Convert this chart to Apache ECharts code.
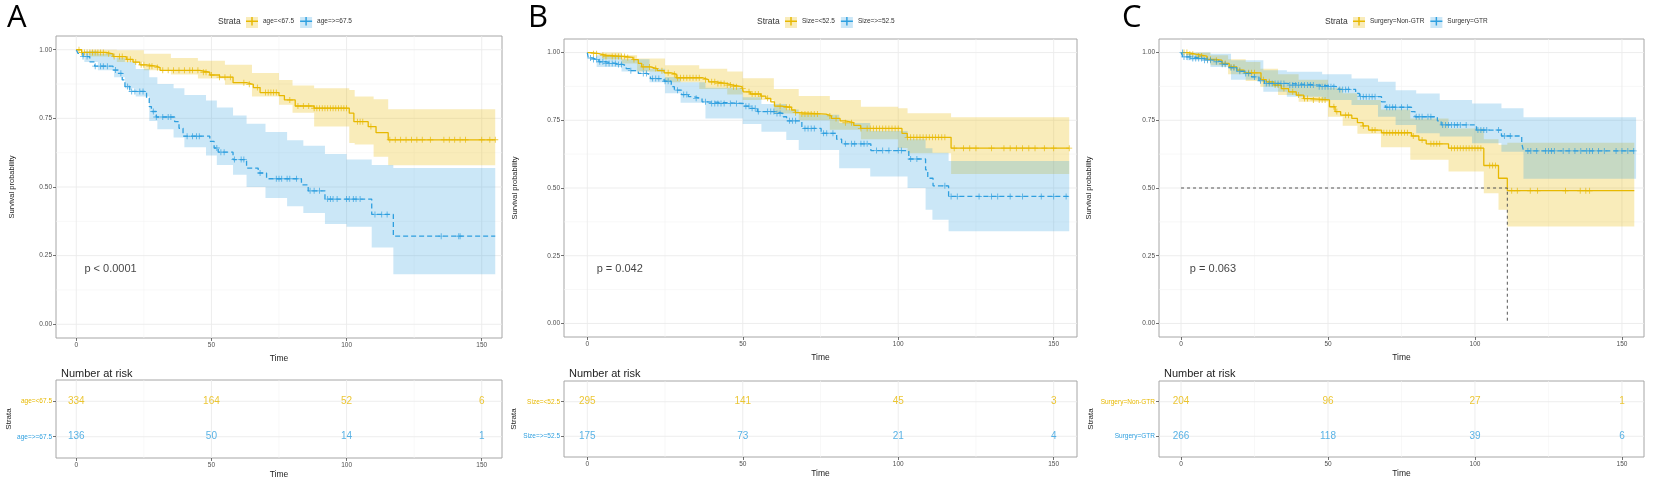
<!DOCTYPE html>
<html>
<head>
<meta charset="utf-8">
<script src="https://cdn.jsdelivr.net/npm/echarts@6/dist/echarts.min.js"></script>
<style>
  html, body { margin: 0; padding: 0; background: #fff; }
  #main { width: 1654px; height: 478px; }
</style>
</head>
<body>
<div id="main"></div>
<script>
// ---- data ----
var xTicks = [0, 50, 100, 150];
var xMinor = [25, 75, 125];
var yTicks = [0, 0.25, 0.5, 0.75, 1];
var yMinor = [0.125, 0.375, 0.625, 0.875];
var riskTimes = [0, 50, 100, 150];

// A: age
var namesA = ['age=<67.5', 'age=>=67.5'];
var timeAgeLow = [0, 2, 11, 13.6, 18.5, 21, 23.5, 26, 29.6, 31, 45.7, 49.4, 53, 58, 63, 65.5, 68, 75, 77, 81, 88, 101, 102.7, 108, 110.9, 115.4, 155];
var survAgeLow = [1, 0.99, 0.985, 0.975, 0.965, 0.955, 0.945, 0.94, 0.935, 0.925, 0.918, 0.908, 0.9, 0.88, 0.874, 0.862, 0.844, 0.833, 0.817, 0.795, 0.787, 0.769, 0.738, 0.72, 0.698, 0.672, 0.672];
var bandTimeAgeLow = [0, 5, 15, 25, 35, 45, 55, 65, 75, 80, 88, 101, 103, 110, 115.4, 155];
var bandHiAgeLow = [1, 1, 0.998, 0.985, 0.97, 0.96, 0.945, 0.915, 0.89, 0.87, 0.86, 0.853, 0.83, 0.82, 0.783, 0.783];
var bandLoAgeLow = [1, 0.975, 0.955, 0.925, 0.91, 0.895, 0.872, 0.83, 0.8, 0.77, 0.72, 0.66, 0.655, 0.61, 0.579, 0.579];
var censorAgeLow = [1, 2, 3, 4, 5, 6, 7, 8, 9, 10, 12, 14, 16, 17, 19, 20, 22, 24, 25, 27, 28, 30, 32, 34, 36, 38, 40, 42, 43, 45, 47, 48, 50, 53, 55, 57, 62, 64, 67, 70, 71, 72, 73, 74, 79, 82, 84, 86, 88, 89, 90, 91, 92, 93, 94, 95, 96, 97, 98, 99, 100, 104, 105, 106, 109, 116, 118, 120, 122, 124, 126, 128, 131, 136, 138, 140, 142, 144, 150, 153, 155];

var timeAgeHigh = [0, 0.6, 2.5, 5, 6.8, 13.6, 15.4, 17, 18, 19.8, 26, 27, 27.8, 29.6, 36.4, 38, 39.5, 49.4, 51, 52.5, 58, 63, 67.3, 70.4, 83.3, 85.8, 92, 109.3, 117.3, 155];
var survAgeHigh = [1, 0.987, 0.975, 0.956, 0.94, 0.926, 0.914, 0.89, 0.866, 0.848, 0.823, 0.793, 0.775, 0.755, 0.738, 0.714, 0.685, 0.666, 0.642, 0.627, 0.6, 0.569, 0.551, 0.53, 0.508, 0.486, 0.456, 0.4, 0.321, 0.321];
var bandTimeAgeHigh = [0, 3, 8, 14, 18, 22, 27, 30, 36, 40, 48, 52, 58, 63, 70, 78, 84, 92, 100, 109.3, 117.3, 155];
var bandHiAgeHigh = [1, 0.995, 0.985, 0.97, 0.955, 0.93, 0.9, 0.875, 0.86, 0.835, 0.815, 0.79, 0.76, 0.73, 0.7, 0.67, 0.65, 0.62, 0.6, 0.58, 0.569, 0.569];
var bandLoAgeHigh = [1, 0.955, 0.925, 0.9, 0.86, 0.83, 0.74, 0.71, 0.68, 0.645, 0.615, 0.58, 0.545, 0.5, 0.46, 0.43, 0.405, 0.365, 0.355, 0.28, 0.182, 0.182];
var censorAgeHigh = [2.5, 4, 7, 9, 10, 11.5, 14.5, 16.5, 19, 20.5, 21.7, 23.5, 24.7, 28.5, 29.6, 32, 34, 35, 41, 43, 44.5, 45.5, 52, 53.5, 54.7, 58.5, 61, 62, 68, 74, 75, 76, 78, 79, 81.5, 86.5, 88, 90, 93, 94, 95, 96.5, 100, 101, 102.5, 103.5, 105, 110.5, 113, 115, 135, 141.5, 142];
var riskAgeLow = [334, 164, 52, 6];
var riskAgeHigh = [136, 50, 14, 1];

// B: size
var namesB = ['Size=<52.5', 'Size=>=52.5'];
var timeSizeLow = [0, 1.4, 3.7, 6, 12.5, 14.7, 16.4, 17.5, 20.3, 22.5, 24.7, 27, 28.6, 36.9, 39, 41.4, 44.7, 46.9, 49.7, 50.2, 52.4, 55.8, 57.4, 59, 60.2, 62.4, 65.7, 66.9, 68, 76.8, 78.5, 81.3, 83, 85.7, 87.9, 101.2, 102.9, 117, 155];
var survSizeLow = [1, 0.996, 0.99, 0.985, 0.982, 0.974, 0.96, 0.947, 0.941, 0.933, 0.925, 0.92, 0.907, 0.9, 0.892, 0.886, 0.88, 0.874, 0.867, 0.855, 0.847, 0.839, 0.831, 0.818, 0.802, 0.798, 0.788, 0.778, 0.773, 0.766, 0.757, 0.748, 0.741, 0.731, 0.72, 0.702, 0.687, 0.647, 0.647];
var bandTimeSizeLow = [0, 5, 11, 16, 25, 36, 45, 50, 60, 68, 78, 88, 100, 103, 117, 155];
var bandHiSizeLow = [1, 1, 0.99, 0.978, 0.953, 0.94, 0.93, 0.905, 0.865, 0.84, 0.825, 0.8, 0.794, 0.776, 0.761, 0.761];
var bandLoSizeLow = [1, 0.975, 0.96, 0.93, 0.89, 0.865, 0.845, 0.825, 0.775, 0.75, 0.715, 0.68, 0.648, 0.628, 0.552, 0.552];
var censorSizeLow = [2, 3, 5, 6, 8, 9, 10, 11, 12, 13, 15, 18, 20, 22, 24, 26, 28, 29, 30, 31, 32, 33, 34, 35, 36, 38, 40, 41, 42, 43, 44, 45, 46, 47, 48, 50, 52, 53, 54, 55, 56, 58, 62, 64, 65, 67, 69, 70, 71, 72, 73, 74, 78, 80, 83, 85, 88, 90, 91, 92, 93, 94, 95, 96, 97, 98, 99, 100, 103, 104, 105, 106, 107, 108, 109, 110, 111, 112, 113, 114, 115, 118, 121, 123, 125, 130, 134, 136, 138, 140, 142, 144, 147, 150, 155];

var timeSizeHigh = [0, 0.3, 1.4, 3.7, 5.9, 9.2, 11.4, 12.5, 13.6, 16.4, 19.2, 20.3, 24.7, 27, 28, 30.3, 32.5, 34, 36.9, 38.6, 50.2, 52.4, 54.7, 60.2, 63, 64.1, 69, 75.2, 80.2, 81.8, 91.2, 103.4, 108.8, 109.5, 111.2, 116.2, 155];
var survSizeHigh = [1, 0.98, 0.974, 0.966, 0.96, 0.956, 0.951, 0.941, 0.933, 0.923, 0.917, 0.904, 0.894, 0.874, 0.861, 0.845, 0.837, 0.831, 0.818, 0.812, 0.802, 0.794, 0.782, 0.775, 0.763, 0.748, 0.72, 0.702, 0.68, 0.663, 0.638, 0.607, 0.567, 0.536, 0.508, 0.469, 0.469];
var bandTimeSizeHigh = [0, 3, 11, 20, 25, 30, 38, 50, 56, 64, 68, 81, 91, 103, 108.8, 111, 116.2, 155];
var bandHiSizeHigh = [1, 0.99, 0.975, 0.94, 0.91, 0.89, 0.87, 0.835, 0.81, 0.79, 0.77, 0.74, 0.71, 0.68, 0.647, 0.63, 0.6, 0.6];
var bandLoSizeHigh = [1, 0.947, 0.93, 0.89, 0.85, 0.815, 0.757, 0.736, 0.708, 0.677, 0.64, 0.573, 0.542, 0.5, 0.42, 0.383, 0.34, 0.34];
var censorSizeHigh = [1, 2, 3, 4, 5, 6, 7, 8, 9, 10, 11, 14, 18, 19, 21, 22, 23, 25, 26, 29, 31, 32, 35, 38, 40, 41, 42, 43, 44, 46, 48, 51, 52, 53, 54, 55, 58, 59, 60, 61, 62, 65, 66, 67, 70, 71, 72, 73, 76, 77, 79, 83, 85, 86, 88, 89, 90, 93, 95, 97, 100, 101, 104, 106, 115, 117, 119, 126, 130, 132, 136, 140, 146, 150, 154];
var riskSizeLow = [295, 141, 45, 3];
var riskSizeHigh = [175, 73, 21, 4];

// C: surgery
var namesC = ['Surgery=Non-GTR', 'Surgery=GTR'];
var timeNonGTR = [0, 2.5, 5, 8.8, 11.4, 13.9, 16.4, 19, 21.5, 27.2, 29, 31.6, 34.1, 36.6, 39.2, 41.7, 44.2, 50.5, 52.4, 54.3, 58.1, 60, 61.9, 63.8, 68.2, 78.4, 80.9, 83.4, 91, 103, 108, 111, 154.2];
var survNonGTR = [1, 0.994, 0.987, 0.975, 0.972, 0.96, 0.947, 0.935, 0.925, 0.9, 0.892, 0.88, 0.867, 0.855, 0.843, 0.83, 0.825, 0.8, 0.782, 0.769, 0.757, 0.741, 0.729, 0.714, 0.704, 0.692, 0.677, 0.663, 0.647, 0.583, 0.536, 0.49, 0.49];
var bandTimeNonGTR = [0, 5, 10, 16, 22, 27, 33, 40, 50, 55, 60, 68, 78, 91, 103, 108, 111, 154.2];
var bandHiNonGTR = [1, 1, 0.99, 0.975, 0.965, 0.94, 0.92, 0.9, 0.87, 0.85, 0.825, 0.79, 0.757, 0.72, 0.68, 0.66, 0.667, 0.667];
var bandLoNonGTR = [1, 0.975, 0.953, 0.92, 0.895, 0.874, 0.843, 0.818, 0.763, 0.73, 0.7, 0.65, 0.604, 0.561, 0.481, 0.42, 0.358, 0.358];
var censorNonGTR = [1, 2, 3, 4, 6, 7, 9, 10, 12, 14, 15, 17, 18, 20, 23, 24, 25, 28, 30, 32, 33, 35, 38, 40, 42, 43, 45, 47, 48, 49, 52, 53, 56, 57, 62, 65, 66, 69, 70, 71, 72, 73, 74, 75, 76, 77, 79, 82, 85, 86, 87, 88, 92, 93, 94, 95, 96, 97, 98, 99, 100, 101, 102, 105, 106, 107, 112.5, 114.4, 118.8, 121.3, 130.8, 135.8, 137.7, 139];

var timeGTR = [0, 0.6, 3.8, 7.6, 11.4, 13.9, 16.4, 19, 21.5, 24, 26.5, 28.4, 36, 46.8, 53.7, 59.4, 60.7, 68.2, 69.5, 78.4, 79.6, 87.2, 88.5, 100.5, 109, 115.9, 116.5, 154.8];
var survGTR = [1, 0.984, 0.978, 0.972, 0.966, 0.957, 0.944, 0.931, 0.923, 0.91, 0.896, 0.886, 0.88, 0.874, 0.864, 0.849, 0.837, 0.818, 0.798, 0.782, 0.763, 0.748, 0.733, 0.714, 0.692, 0.665, 0.637, 0.637];
var bandTimeGTR = [0, 2, 10, 17, 28, 36, 48, 58, 67, 73, 80, 88, 99, 109, 116.5, 154.8];
var bandHiGTR = [1, 1, 0.996, 0.972, 0.935, 0.929, 0.92, 0.904, 0.892, 0.861, 0.849, 0.825, 0.812, 0.794, 0.761, 0.761];
var bandLoGTR = [1, 0.972, 0.947, 0.9, 0.855, 0.837, 0.825, 0.806, 0.763, 0.733, 0.702, 0.69, 0.665, 0.634, 0.534, 0.534];
var censorGTR = [0.5, 1, 2, 3, 4, 5, 6, 7, 8, 9, 10, 12, 14, 15, 17, 18, 20, 22, 23, 25, 27, 29, 30, 31, 32, 33, 34, 35, 37, 38, 39, 40, 41, 42, 43, 44, 45, 47, 48, 49, 50, 51, 52, 54, 55, 56, 57, 61, 62, 63, 64, 65, 66, 70, 71, 72, 73, 75, 77, 80, 81, 82, 84, 85, 89, 90, 91, 92, 93, 94, 95, 97, 101, 102, 103, 104, 108, 110, 112, 118, 119, 121, 124, 125, 126, 127, 130, 132, 134, 136, 138, 139, 140, 142, 144, 148, 150, 152, 154];
var riskNonGTR = [204, 96, 27, 1];
var riskGTR = [266, 118, 39, 6];
var medianNonGTR = 111;

// ---- styling ----
var GOLD = '#E7B800', BLUE = '#2E9FDF';
var GOLD_BAND = 'rgba(231,184,0,0.27)', BLUE_BAND = 'rgba(46,159,223,0.25)';
var FONT = 'Liberation Sans';
var PLUS = 'path://M4.3,0H5.7V4.3H10V5.7H5.7V10H4.3V5.7H0V4.3H4.3Z';
var KEY = 'path://M0,4.4H4.4V1.5H5.6V4.4H10V5.6H5.6V8.5H4.4V5.6H0Z';

var panels = [
  { letter: 'A', letterX: 2, names: namesA, legendX: 213, pval: 'p < 0.0001',
    box: { left: 56, width: 446 }, plotTop: 36, plotH: 302, tabTop: 380, tabH: 78,
    yGap: 40, sGap: 40,
    curves: [
      { t: timeAgeLow, s: survAgeLow, bt: bandTimeAgeLow, hi: bandHiAgeLow, lo: bandLoAgeLow, c: censorAgeLow, risk: riskAgeLow },
      { t: timeAgeHigh, s: survAgeHigh, bt: bandTimeAgeHigh, hi: bandHiAgeHigh, lo: bandLoAgeHigh, c: censorAgeHigh, risk: riskAgeHigh }
    ] },
  { letter: 'B', letterX: 523, names: namesB, legendX: 752, pval: 'p = 0.042',
    box: { left: 564, width: 513 }, plotTop: 39, plotH: 298, tabTop: 381, tabH: 76,
    yGap: 45, sGap: 46,
    curves: [
      { t: timeSizeLow, s: survSizeLow, bt: bandTimeSizeLow, hi: bandHiSizeLow, lo: bandLoSizeLow, c: censorSizeLow, risk: riskSizeLow },
      { t: timeSizeHigh, s: survSizeHigh, bt: bandTimeSizeHigh, hi: bandHiSizeHigh, lo: bandLoSizeHigh, c: censorSizeHigh, risk: riskSizeHigh }
    ] },
  { letter: 'C', letterX: 1117, names: namesC, legendX: 1320, pval: 'p = 0.063',
    box: { left: 1159, width: 485 }, plotTop: 39, plotH: 298, tabTop: 381, tabH: 76,
    yGap: 66, sGap: 64, median: medianNonGTR,
    curves: [
      { t: timeNonGTR, s: survNonGTR, bt: bandTimeNonGTR, hi: bandHiNonGTR, lo: bandLoNonGTR, c: censorNonGTR, risk: riskNonGTR },
      { t: timeGTR, s: survGTR, bt: bandTimeGTR, hi: bandHiGTR, lo: bandLoGTR, c: censorGTR, risk: riskGTR }
    ] }
];

function stepAt(times, surv, t) {
  var v = surv[0];
  for (var i = 0; i < times.length; i++) {
    if (times[i] <= t) v = surv[i];
  }
  return v;
}

function gridLines(ai, vals, dir, color, width, mid) {
  return {
    type: 'custom', xAxisIndex: ai, yAxisIndex: ai, silent: true, z: 0,
    data: vals.map(function (v) { return dir === 'x' ? [v, mid] : [0, v]; }),
    renderItem: function (params, api) {
      var cs = params.coordSys;
      var p = api.coord([api.value(0), api.value(1)]);
      var shape = dir === 'x'
        ? { x1: p[0], y1: cs.y, x2: p[0], y2: cs.y + cs.height }
        : { x1: cs.x, y1: p[1], x2: cs.x + cs.width, y2: p[1] };
      return { type: 'line', shape: shape, style: { stroke: color, lineWidth: width } };
    }
  };
}

function bandSeries(ai, bt, hi, lo, color) {
  return {
    type: 'custom', xAxisIndex: ai, yAxisIndex: ai, silent: true, z: 1, clip: true,
    data: [[0, 0.5]],
    renderItem: function (params, api) {
      var pts = [], i;
      for (i = 0; i < bt.length - 1; i++) {
        pts.push(api.coord([bt[i], hi[i]]));
        pts.push(api.coord([bt[i + 1], hi[i]]));
      }
      for (i = bt.length - 2; i >= 0; i--) {
        pts.push(api.coord([bt[i + 1], lo[i]]));
        pts.push(api.coord([bt[i], lo[i]]));
      }
      return { type: 'polygon', shape: { points: pts }, style: { fill: color } };
    }
  };
}

var grids = [], xAxes = [], yAxes = [], series = [], legends = [], titles = [];
var tickLabel = { fontSize: 6.5, color: '#4d4d4d', fontFamily: FONT, margin: 4 };
var tickStyle = { length: 3, lineStyle: { color: '#4d4d4d', width: 0.8 } };

panels.forEach(function (p, k) {
  var colors = [GOLD, BLUE], bands = [GOLD_BAND, BLUE_BAND];
  var ai = k * 2, ti = k * 2 + 1;
  var gridBase = { left: p.box.left, width: p.box.width, show: true, borderColor: '#a6a6a6', borderWidth: 1,
    backgroundColor: '#fff', containLabel: false, outerBoundsMode: 'none' };
  grids.push(Object.assign({}, gridBase, { top: p.plotTop, height: p.plotH }));
  grids.push(Object.assign({}, gridBase, { top: p.tabTop, height: p.tabH }));

  [ai, ti].forEach(function (gi) {
    xAxes.push({
      type: 'value', gridIndex: gi, min: -7.5, max: 157.5,
      name: 'Time', nameLocation: 'middle', nameGap: 11,
      nameTextStyle: { fontSize: 8.5, color: '#222', fontFamily: FONT },
      axisLine: { show: false, onZero: false },
      axisTick: Object.assign({ show: true, customValues: xTicks }, tickStyle),
      axisLabel: Object.assign({ customValues: xTicks }, tickLabel),
      splitLine: { show: false }
    });
  });
  yAxes.push({
    type: 'value', gridIndex: ai, min: -0.05, max: 1.05,
    name: 'Survival probability', nameLocation: 'middle', nameGap: p.yGap,
    nameTextStyle: { fontSize: 7.5, color: '#222', fontFamily: FONT },
    axisLine: { show: false, onZero: false },
    axisTick: Object.assign({ show: true, customValues: yTicks }, tickStyle),
    axisLabel: Object.assign({ customValues: yTicks, formatter: function (v) { return v.toFixed(2); } }, tickLabel),
    splitLine: { show: false }
  });
  yAxes.push({
    type: 'value', gridIndex: ti, min: 0.4, max: 2.6,
    name: 'Strata', nameLocation: 'middle', nameGap: p.sGap,
    nameTextStyle: { fontSize: 8, color: '#222', fontFamily: FONT },
    axisLine: { show: false, onZero: false },
    axisTick: Object.assign({ show: true, customValues: [1, 2] }, tickStyle),
    axisLabel: Object.assign({}, tickLabel, {
      customValues: [1, 2],
      formatter: function (v) { return v === 2 ? p.names[0] : p.names[1]; },
      color: function (v) { return String(v) === '2' ? GOLD : BLUE; }
    }),
    splitLine: { show: false }
  });

  // grid lines
  series.push(gridLines(ai, xMinor, 'x', '#f4f4f4', 0.6, 0.5));
  series.push(gridLines(ai, yMinor, 'y', '#f4f4f4', 0.6, 0));
  series.push(gridLines(ai, xTicks, 'x', '#ebebeb', 0.9, 0.5));
  series.push(gridLines(ai, yTicks, 'y', '#ebebeb', 0.9, 0));
  series.push(gridLines(ti, xMinor, 'x', '#f4f4f4', 0.6, 1.5));
  series.push(gridLines(ti, xTicks, 'x', '#ebebeb', 0.9, 1.5));
  series.push(gridLines(ti, [1, 2], 'y', '#ebebeb', 0.9, 0));

  p.curves.forEach(function (cv, j) {
    series.push(bandSeries(ai, cv.bt, cv.hi, cv.lo, bands[j]));
  });
  p.curves.forEach(function (cv, j) {
    series.push({
      type: 'line', name: p.names[j], xAxisIndex: ai, yAxisIndex: ai, z: 3,
      step: 'end', showSymbol: false, symbol: 'none', silent: true,
      data: cv.t.map(function (t, i) { return [t, cv.s[i]]; }),
      itemStyle: { color: colors[j] },
      lineStyle: { color: colors[j], width: 1.3, type: j === 0 ? 'solid' : [5, 3] }
    });
    series.push({
      type: 'scatter', name: p.names[j] + ' censor', xAxisIndex: ai, yAxisIndex: ai, z: 4,
      symbol: PLUS, symbolSize: 6, silent: true,
      itemStyle: { color: colors[j] },
      data: cv.c.map(function (t) { return [t, stepAt(cv.t, cv.s, t)]; })
    });
    series.push({
      type: 'scatter', xAxisIndex: ti, yAxisIndex: ti, symbolSize: 0, silent: true, z: 4,
      data: cv.risk.map(function (n, i) { return [riskTimes[i], 2 - j, n]; }),
      label: { show: true, position: 'inside', formatter: function (d) { return d.data[2]; },
        fontSize: 10, color: colors[j], fontFamily: FONT }
    });
  });

  if (p.median) {
    series.push({
      type: 'line', xAxisIndex: ai, yAxisIndex: ai, z: 5, showSymbol: false, symbol: 'none', silent: true,
      data: [[0, 0.5], [p.median, 0.5], [p.median, 0]],
      lineStyle: { color: '#555', width: 1, type: [3, 3] }
    });
  }

  series.push({
    type: 'scatter', xAxisIndex: ai, yAxisIndex: ai, symbolSize: 0, silent: true, z: 5,
    data: [[3, 0.2]],
    label: { show: true, position: 'right', distance: 0, formatter: p.pval, fontSize: 11, color: '#111', fontFamily: FONT }
  });

  // legend: a light key box underneath, the line-and-cross key on top
  var legendBase = {
    left: p.legendX + 28, top: 12, orient: 'horizontal', selectedMode: false,
    itemWidth: 12, itemHeight: 11, itemGap: 6
  };
  legends.push(Object.assign({}, legendBase, {
    z: 3,
    textStyle: { fontSize: 6.5, color: 'rgba(0,0,0,0)', fontFamily: FONT },
    data: p.names.map(function (n, j) { return { name: n, icon: 'rect', itemStyle: { color: bands[j] } }; })
  }));
  legends.push(Object.assign({}, legendBase, {
    z: 4,
    textStyle: { fontSize: 6.5, color: '#333', fontFamily: FONT },
    data: p.names.map(function (n) { return { name: n, icon: KEY }; })
  }));
  titles.push({ text: p.letter, left: p.letterX, top: -2,
    textStyle: { fontSize: 31, fontWeight: 'normal', color: '#000', fontFamily: 'Open Sans' } });
  titles.push({ text: 'Strata', left: p.legendX, top: 12,
    textStyle: { fontSize: 8.5, fontWeight: 'normal', color: '#333', fontFamily: FONT } });
  titles.push({ text: 'Number at risk', left: p.box.left, top: 363,
    textStyle: { fontSize: 11, fontWeight: 'normal', color: '#222', fontFamily: FONT } });
});

var chart = echarts.init(document.getElementById('main'), null, { renderer: 'canvas' });
chart.setOption({
  animation: false,
  backgroundColor: '#fff',
  textStyle: { fontFamily: FONT },
  title: titles,
  legend: legends,
  grid: grids,
  xAxis: xAxes,
  yAxis: yAxes,
  series: series
});
</script>
</body>
</html>
